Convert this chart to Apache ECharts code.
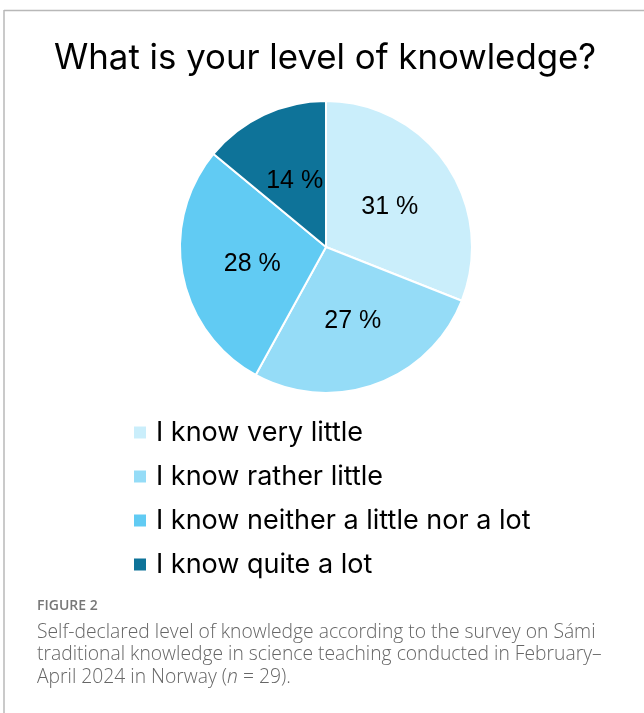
<!DOCTYPE html>
<html>
<head>
<meta charset="utf-8">
<script src="https://cdn.jsdelivr.net/npm/echarts@6/dist/echarts.min.js"></script>
<style>
  html, body { margin: 0; padding: 0; background: #fff; }
  #chart { width: 644px; height: 713px; }
</style>
</head>
<body>
<div id="chart"></div>
<script>
// Survey answers: self-declared level of knowledge (n = 29)
const categories = [
  'I know very little',
  'I know rather little',
  'I know neither a little nor a lot',
  'I know quite a lot'
];
const shares = [31, 27, 28, 14];
const sliceColors = ['#CAEEFB', '#95DCF7', '#61CBF3', '#0E7399'];

const titleText = 'What is your level of knowledge?';
const figureLabel = 'FIGURE 2';
const captionLines = [
  'Self-declared level of knowledge according to the survey on Sámi',
  'traditional knowledge in science teaching conducted in February–',
  'April 2024 in Norway ({i|n} = 29).'
];

const chart = echarts.init(document.getElementById('chart'), null, { renderer: 'canvas' });

const captionFont = '"Open Sans", "Noto Sans", sans-serif';

chart.setOption({
  backgroundColor: '#ffffff',
  animation: false,
  title: {
    text: titleText,
    left: 54,
    top: 41,
    padding: 0,
    textStyle: {
      fontFamily: 'Inter, "Noto Sans", sans-serif',
      fontSize: 34.8,
      fontWeight: 'normal',
      color: '#000'
    }
  },
  legend: {
    orient: 'vertical',
    left: 127,
    top: 414,
    itemWidth: 14,
    itemHeight: 14,
    itemGap: 17,
    icon: 'rect',
    textStyle: {
      fontFamily: 'Inter, "Noto Sans", sans-serif',
      fontSize: 27,
      color: '#000',
      padding: [0, 0, 0, 4]
    },
    data: categories
  },
  series: [{
    type: 'pie',
    center: [326, 247],
    radius: 146,
    startAngle: 90,
    clockwise: true,
    avoidLabelOverlap: false,
    itemStyle: { borderColor: '#ffffff', borderWidth: 2 },
    label: {
      show: true,
      position: 'inside',
      formatter: '{c} %',
      fontFamily: '"Liberation Sans", Arial, sans-serif',
      fontSize: 25,
      color: '#000',
      offset: [1, 3]
    },
    labelLine: { show: false },
    emphasis: { disabled: true },
    data: categories.map((name, i) => ({
      name: name,
      value: shares[i],
      itemStyle: { color: sliceColors[i] }
    }))
  }],
  graphic: [
    // frame around the figure
    { type: 'line', shape: { x1: 4, y1: 10.5, x2: 644, y2: 10.5 }, style: { stroke: '#b8b8b8', lineWidth: 1.5 } },
    { type: 'line', shape: { x1: 4, y1: 10, x2: 4, y2: 713 }, style: { stroke: '#b8b8b8', lineWidth: 1.5 } },
    {
      type: 'text', left: 37, top: 599,
      style: {
        text: figureLabel,
        font: '600 14px ' + captionFont,
        fill: '#777777'
      }
    },
    {
      type: 'text', left: 37, top: 621,
      style: {
        text: captionLines.join('\n'),
        fontFamily: captionFont,
        fontSize: 19.3,
        fontWeight: 300,
        lineHeight: 22.5,
        fill: '#666666',
        rich: {
          i: {
            fontFamily: captionFont,
            fontSize: 19.3,
            fontStyle: 'italic',
            fontWeight: 300,
            lineHeight: 22.5,
            fill: '#666666'
          }
        }
      }
    }
  ]
});
</script>
</body>
</html>
